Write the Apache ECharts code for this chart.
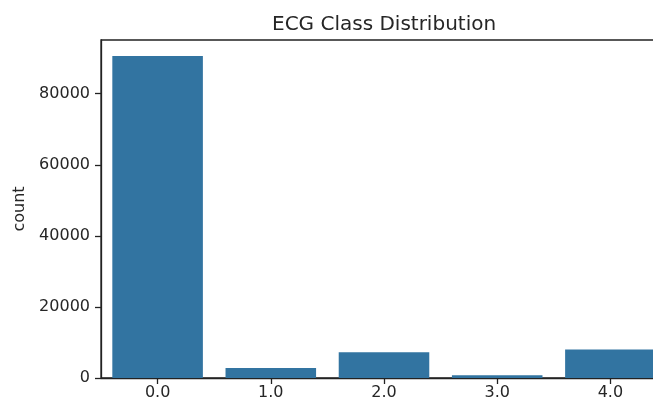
<!DOCTYPE html>
<html>
<head>
<meta charset="utf-8">
<script src="https://cdn.jsdelivr.net/npm/echarts@6/dist/echarts.min.js"></script>
<style>
html,body{margin:0;padding:0;overflow:hidden;background:#fff;width:653px;height:402px;}
#c{width:667px;height:402px;}
</style>
</head>
<body>
<div id="c"></div>
<script>
const categories = ['0.0', '1.0', '2.0', '3.0', '4.0'];
const counts = [90589, 2779, 7236, 803, 8039];
const yTicks = [0, 20000, 40000, 60000, 80000];
const titleText = 'ECG Class Distribution';
const yName = 'count';

const font = 'DejaVu Sans';
const textColor = '#262626';
const yMax = Math.max(...counts) * 1.05;

const chart = echarts.init(document.getElementById('c'), null, {renderer: 'canvas'});
chart.setOption({
  animation: false,
  backgroundColor: '#ffffff',
  title: {
    text: titleText,
    left: 272, top: 15, padding: 0,
    textStyle: {fontFamily: font, fontSize: 20, fontWeight: 'normal', color: textColor}
  },
  grid: {
    left: 101, right: 0, top: 40, bottom: 24,
    show: true, borderColor: '#222', borderWidth: 1.3, backgroundColor: 'transparent'
  },
  xAxis: {
    type: 'category',
    data: categories,
    boundaryGap: true,
    axisLine: {show: true, lineStyle: {color: '#222', width: 1.3}},
    axisTick: {show: true, alignWithLabel: true, length: 6, lineStyle: {color: '#222', width: 1.3}},
    axisLabel: {fontFamily: font, fontSize: 16, color: textColor, margin: 7},
    splitLine: {show: false}
  },
  yAxis: {
    type: 'value',
    min: 0, max: yMax,
    name: yName,
    nameLocation: 'middle',
    nameGap: 68,
    nameTextStyle: {fontFamily: font, fontSize: 16, color: textColor},
    axisLine: {show: true, lineStyle: {color: '#222', width: 1.3}},
    axisTick: {show: true, length: 6, customValues: yTicks, lineStyle: {color: '#222', width: 1.3}},
    axisLabel: {
      fontFamily: font, fontSize: 16, color: textColor, margin: 11, customValues: yTicks,
      formatter: v => String(v)
    },
    splitLine: {show: false}
  },
  series: [{
    type: 'bar',
    data: counts,
    barWidth: '80%',
    itemStyle: {color: '#3274a1'}
  }]
});
</script>
</body>
</html>
